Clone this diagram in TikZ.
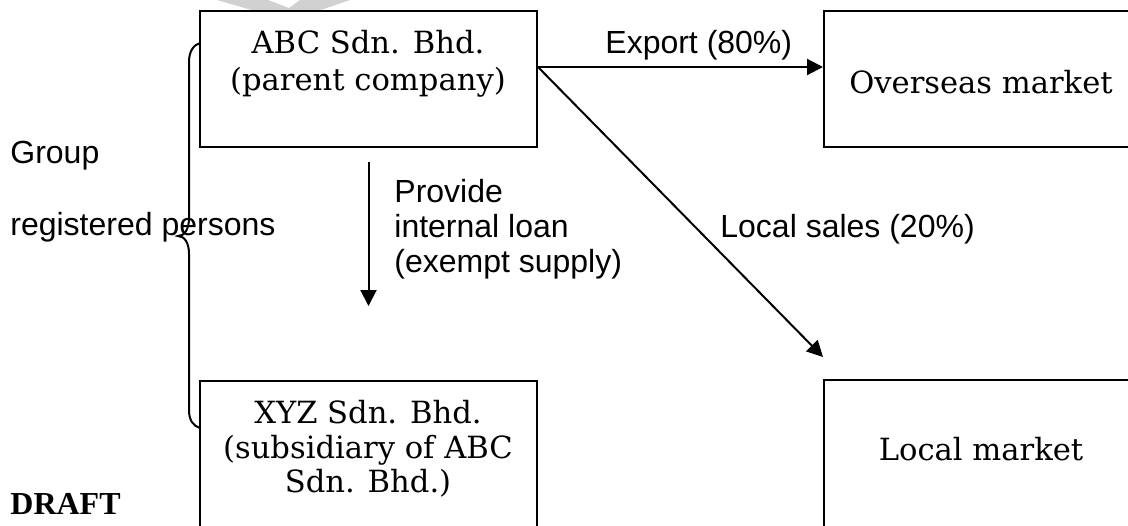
\documentclass[tikz,border=0pt]{standalone}
\usepackage{fontspec}
\setmainfont{DejaVu Serif}
\newfontfamily\arialfont{Liberation Sans}
\newfontfamily\timesfont{Liberation Serif}
\usetikzlibrary{arrows.meta}

\tikzset{
  firm/.style={draw, line width=1pt, inner sep=0pt},
  firmtext/.style={inner sep=0pt, align=center, font=\fontsize{15.3pt}{18.5pt}\selectfont},
  flowtext/.style={inner sep=0pt, align=left, font=\arialfont\fontsize{16pt}{17.5pt}\selectfont},
  flow/.style={line width=1pt, -{Triangle[length=8pt,width=8pt]}},
}

\begin{document}
\begin{tikzpicture}[x=0.5pt,y=-0.5pt]
\useasboundingbox (0,0) rectangle (1128,525);

%WATERMARK
\fill[black!18] (217,0) -- (268,0) -- (289,8) -- (300,0) -- (350,0) -- (318,11) -- (255,11) -- cycle;

%BOXES
% companies on the left, markets on the right
\node[firm, minimum width=168.5pt, minimum height=68pt] (abc) at (368.5,79) {};
\node[firm, minimum width=157pt, minimum height=68pt] (overseas) at (981,79) {};
\node[firm, minimum width=168.5pt, minimum height=100pt] (xyz) at (368.5,481) {};
\node[firm, minimum width=157pt, minimum height=100pt] (local) at (981,480) {};

%BOX TEXT
\node[firmtext, anchor=north] (abctxt) at (368,30) {ABC Sdn. Bhd.\\(parent company)};
\node[firmtext, anchor=base] (overseastxt) at (981,93) {Overseas market};
\node[firmtext, anchor=north, font=\fontsize{15.3pt}{17.25pt}\selectfont] (xyztxt) at (368,400) {XYZ Sdn. Bhd.\\(subsidiary of ABC\\Sdn. Bhd.)};
\node[firmtext, anchor=base] (localtxt) at (981,460) {Local market};

%LABELS
\node[flowtext, anchor=base west] (group) at (10,163) {Group};
\node[flowtext, anchor=base west] (regpers) at (10,235) {registered persons};
\node[flowtext, anchor=base west] (exportlbl) at (605,53) {Export (80\%)};
\node[flowtext, anchor=base west] (locallbl) at (720,237) {Local sales (20\%)};
\node[flowtext, anchor=north west] (loanlbl) at (394,179) {Provide\\internal loan\\(exempt supply)};
\node[inner sep=0pt, anchor=base west, font=\timesfont\bfseries\fontsize{16pt}{19pt}\selectfont] (draft) at (10,514) {DRAFT};

%ARROWS
\draw[flow] ([yshift=6pt]abc.east) -- ([yshift=6pt]overseas.west);
\draw[flow] ([yshift=6pt]abc.east) -- ([yshift=11pt]local.north west);
\draw[flow] ([yshift=-7pt]abc.south) -- ([yshift=37pt]xyz.north);

%BRACE
\draw[line width=1pt] (200,43) .. controls (193,45) and (189,52) .. (189,62) -- (189,218)
  .. controls (189,230) and (184,236) .. (178,236)
  .. controls (184,236) and (189,242) .. (189,254) -- (189,410)
  .. controls (189,420) and (193,426) .. (200,428);

\end{tikzpicture}
\end{document}
